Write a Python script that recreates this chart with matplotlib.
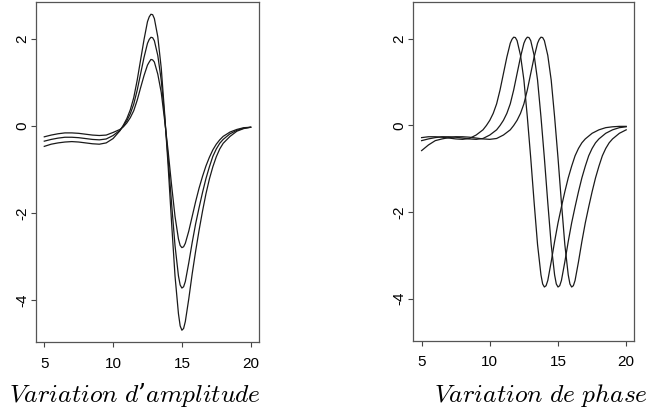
import matplotlib
matplotlib.use('Agg')
import matplotlib.pyplot as plt

# amplitude variation: three curves
amp_x = [5, 5.5, 6, 6.5, 7, 7.5, 8, 8.5, 9, 9.5, 10, 10.5, 10.75, 11, 11.25, 11.5, 11.75,
         12, 12.25, 12.5, 12.625, 12.75, 12.875, 13, 13.25, 13.5, 13.75, 14, 14.25, 14.5,
         14.75, 14.875, 15, 15.125, 15.25, 15.5, 15.75, 16, 16.25, 16.5, 16.75, 17, 17.25,
         17.5, 17.75, 18, 18.5, 19, 19.5, 20]
amp_mid = [-0.35, -0.31, -0.28, -0.26, -0.26, -0.27, -0.29, -0.31, -0.32, -0.30, -0.22, -0.10,
           0.00, 0.12, 0.28, 0.50, 0.82, 1.20, 1.58, 1.90, 1.99, 2.04, 2.03, 1.96, 1.62, 1.05,
           0.20, -0.75, -1.78, -2.75, -3.45, -3.66, -3.73, -3.70, -3.58, -3.15, -2.68, -2.25,
           -1.88, -1.53, -1.21, -0.94, -0.70, -0.53, -0.40, -0.31, -0.18, -0.10, -0.05, -0.03]
amp_big = [-0.47, -0.42, -0.39, -0.37, -0.36, -0.37, -0.39, -0.41, -0.42, -0.39, -0.29, -0.11,
           0.02, 0.17, 0.37, 0.65, 1.05, 1.52, 1.99, 2.40, 2.51, 2.57, 2.56, 2.47, 2.05, 1.33,
           0.27, -0.92, -2.22, -3.45, -4.32, -4.60, -4.70, -4.66, -4.50, -3.98, -3.40, -2.88,
           -2.40, -1.96, -1.56, -1.22, -0.94, -0.71, -0.53, -0.40, -0.24, -0.12, -0.06, -0.03]
amp_small = [-0.25, -0.21, -0.18, -0.16, -0.16, -0.17, -0.19, -0.21, -0.22, -0.21, -0.15, -0.08,
             -0.02, 0.07, 0.19, 0.35, 0.59, 0.88, 1.16, 1.40, 1.47, 1.53, 1.52, 1.47, 1.19, 0.77,
             0.12, -0.58, -1.36, -2.08, -2.60, -2.75, -2.80, -2.78, -2.70, -2.42, -2.08, -1.74,
             -1.43, -1.16, -0.92, -0.72, -0.55, -0.42, -0.32, -0.24, -0.14, -0.08, -0.04, -0.03]

# phase variation: early, middle (same as amp_mid), late
early_x = [5, 5.5, 6, 6.5, 7, 7.5, 8, 8.5, 9, 9.5, 9.75, 10, 10.25, 10.5, 10.75, 11, 11.25,
           11.5, 11.625, 11.75, 11.875, 12, 12.25, 12.5, 12.75, 13, 13.25, 13.5, 13.75, 13.875,
           14, 14.125, 14.25, 14.5, 14.75, 15, 15.25, 15.5, 15.75, 16, 16.25, 16.5, 16.75, 17,
           17.5, 18, 18.5, 19, 19.5, 20]
early_y = [-0.28, -0.26, -0.26, -0.27, -0.29, -0.31, -0.32, -0.30, -0.22, -0.10, 0.00, 0.12,
           0.28, 0.50, 0.82, 1.20, 1.58, 1.90, 1.99, 2.04, 2.03, 1.96, 1.62, 1.05, 0.20, -0.75,
           -1.78, -2.75, -3.45, -3.66, -3.73, -3.70, -3.58, -3.15, -2.68, -2.25, -1.88, -1.53,
           -1.21, -0.94, -0.70, -0.53, -0.40, -0.31, -0.18, -0.10, -0.05, -0.03, -0.02, -0.02]
late_x = [5, 5.5, 6, 6.5, 7, 7.5, 8, 8.5, 9, 9.5, 10, 10.5, 11, 11.5, 11.75, 12, 12.25, 12.5,
          12.75, 13, 13.25, 13.5, 13.625, 13.75, 13.875, 14, 14.25, 14.5, 14.75, 15, 15.25,
          15.5, 15.75, 15.875, 16, 16.125, 16.25, 16.5, 16.75, 17, 17.25, 17.5, 17.75, 18,
          18.25, 18.5, 18.75, 19, 19.5, 20]
late_y = [-0.58, -0.45, -0.35, -0.31, -0.28, -0.26, -0.26, -0.27, -0.29, -0.31, -0.32, -0.30,
          -0.22, -0.10, 0.00, 0.12, 0.28, 0.50, 0.82, 1.20, 1.58, 1.90, 1.99, 2.04, 2.03, 1.96,
          1.62, 1.05, 0.20, -0.75, -1.78, -2.75, -3.45, -3.66, -3.73, -3.70, -3.58, -3.15,
          -2.68, -2.25, -1.88, -1.53, -1.21, -0.94, -0.70, -0.53, -0.40, -0.31, -0.18, -0.10]

xticks = [5, 10, 15, 20]
yticks = [-4, -2, 0, 2]

plt.rcParams['mathtext.fontset'] = 'cm'

fig = plt.figure(figsize=(6.48, 4.16), dpi=100)
ax1 = fig.add_axes([0.0556, 0.178, 0.344, 0.817])
ax2 = fig.add_axes([0.638, 0.181, 0.341, 0.814])

lc = '#1a1a1a'
ax1.plot(amp_x, amp_big, color=lc, lw=0.9)
ax1.plot(amp_x, amp_mid, color=lc, lw=0.9)
ax1.plot(amp_x, amp_small, color=lc, lw=0.9)

ax2.plot(early_x, early_y, color=lc, lw=0.9)
ax2.plot(amp_x, amp_mid, color=lc, lw=0.9)
ax2.plot(late_x, late_y, color=lc, lw=0.9)

for ax in (ax1, ax2):
    ax.set_xlim(4.4, 20.6)
    ax.set_ylim(-4.97, 2.85)
    ax.set_xticks(xticks)
    ax.set_yticks(yticks)
    ax.set_yticklabels([str(v) for v in yticks], rotation=90, va='center')
    ax.tick_params(direction='out', length=3.5, width=0.8, color='#444444',
                   labelsize=11)
    ax.tick_params(axis='y', pad=1.5)
    ax.tick_params(axis='x', pad=7)
    for lab in ax.get_xticklabels() + ax.get_yticklabels():
        lab.set_family(['Liberation Sans', 'DejaVu Sans'])
    for s in ax.spines.values():
        s.set_color('#555555')
        s.set_linewidth(0.9)

fig.text(0.209, 0.033, r'$Variation\ d$' + '\u2019' + r'$amplitude$', ha='center',
         fontsize=18.4, family='DejaVu Serif')
fig.text(0.835, 0.033, r'$Variation\ de\ phase$', ha='center', fontsize=18.4)

fig.savefig('out.png', dpi=100)
